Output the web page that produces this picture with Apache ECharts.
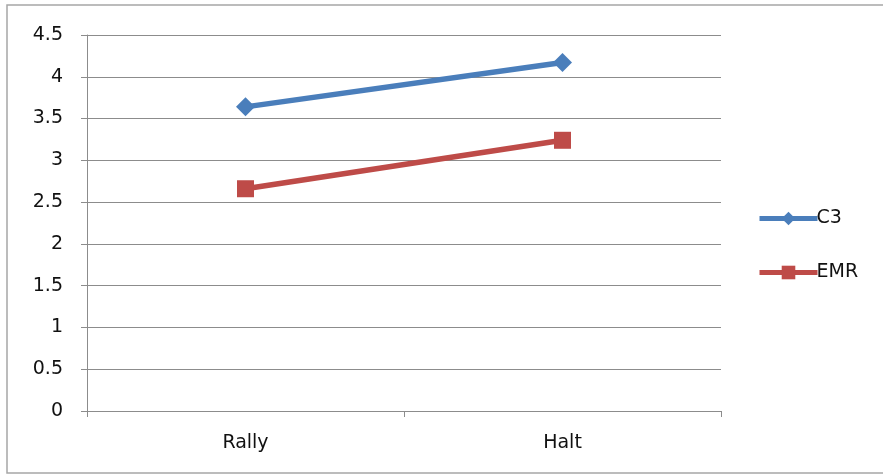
<!DOCTYPE html>
<html><head><meta charset="utf-8">
<script src="https://cdn.jsdelivr.net/npm/echarts@6/dist/echarts.min.js"></script>
<style>html,body{margin:0;padding:0;background:#fff}#c{width:883px;height:476px}</style>
</head><body><div id="c"></div>
<script>
const categories = ['Rally', 'Halt'];
const c3 = [3.64, 4.17];
const emr = [2.66, 3.24];
const yTicks = { min: 0, max: 4.5, interval: 0.5 };

const chart = echarts.init(document.getElementById('c'), null, { renderer: 'canvas' });
const font = '"DejaVu Sans", sans-serif';
chart.setOption({
  backgroundColor: '#fff',
  animation: false,
  graphic: [{ type: 'rect', shape: { x: 7, y: 5, width: 890, height: 468 }, style: { fill: 'none', stroke: '#a6a6a6', lineWidth: 1.5 } }],
  grid: { left: 87, right: 162, top: 35, bottom: 65, containLabel: false },
  legend: {
    orient: 'vertical', left: 752, top: 204, itemGap: 35, itemWidth: 58, itemHeight: 17,
    lineStyle: { width: 5 },
    textStyle: { fontFamily: font, fontSize: 19, color: '#111', padding: [0, 0, 0, -6] },
    data: ['C3', 'EMR']
  },
  xAxis: {
    type: 'category', data: categories, boundaryGap: true,
    axisLine: { lineStyle: { color: '#8c8c8c', width: 1 } },
    axisTick: { show: true, length: 6, lineStyle: { color: '#8c8c8c' } },
    axisLabel: { fontFamily: font, fontSize: 19, color: '#111', margin: 23 }
  },
  yAxis: {
    type: 'value', min: yTicks.min, max: yTicks.max, interval: yTicks.interval,
    axisLine: { show: true, lineStyle: { color: '#8c8c8c', width: 1 } },
    axisTick: { show: true, length: 6, lineStyle: { color: '#8c8c8c' } },
    splitLine: { lineStyle: { color: '#8c8c8c', width: 1 } },
    axisLabel: { fontFamily: font, fontSize: 19, color: '#111', margin: 24, padding: [3, 0, 0, 0] }
  },
  series: [
    { name: 'C3', type: 'line', data: c3, symbol: 'diamond', symbolSize: 19,
      lineStyle: { color: '#4a7ebb', width: 5.5 }, itemStyle: { color: '#4a7ebb' } },
    { name: 'EMR', type: 'line', data: emr, symbol: 'rect', symbolSize: 17,
      lineStyle: { color: '#be4b48', width: 5.5 }, itemStyle: { color: '#be4b48' } }
  ]
});
</script></body></html>
